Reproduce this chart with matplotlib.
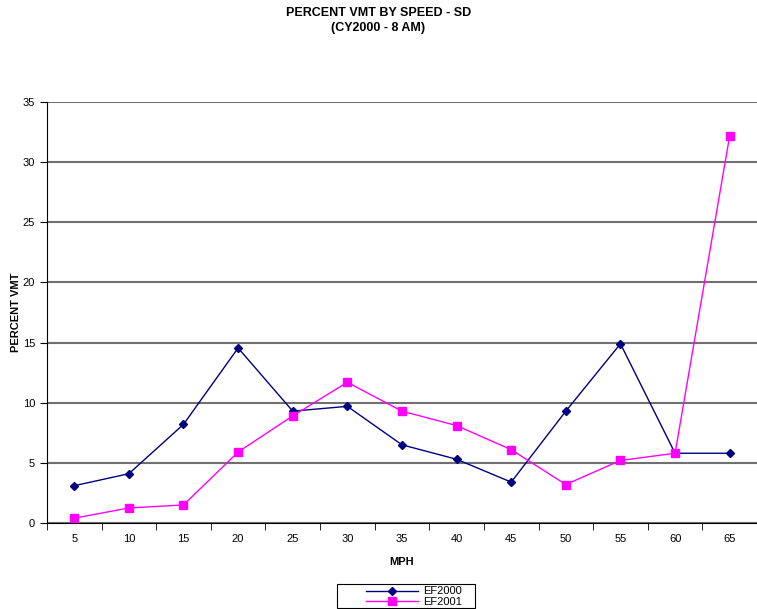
import numpy as np
import matplotlib.pyplot as plt
from matplotlib.patches import Rectangle

plt.rcParams['font.family'] = ['Liberation Sans', 'DejaVu Sans']

# speed bins and percent VMT per series
speeds = ['5', '10', '15', '20', '25', '30', '35', '40', '45', '50', '55', '60', '65']
ef2000 = [3.1, 4.1, 8.2, 14.55, 9.3, 9.7, 6.5, 5.3, 3.4, 9.3, 14.9, 5.8, 5.8]
ef2001 = [0.4, 1.25, 1.5, 5.9, 8.9, 11.7, 9.3, 8.1, 6.1, 3.2, 5.2, 5.8, 32.2]

W, H = 757, 609
fig = plt.figure(figsize=(W / 100, H / 100), dpi=100)
ax = fig.add_axes([0.062, 0.1412, 0.938, 0.6913])

x = np.arange(len(speeds))
ax.plot(x, ef2000, color='#000080', marker='D', markersize=4, linewidth=1, label='EF2000')
ax.plot(x, ef2001, color='#FF00FF', marker='s', markersize=6, linewidth=1, label='EF2001')

ax.set_xlim(-0.5, len(speeds) - 0.5)
ax.set_ylim(0, 35)
ax.set_yticks(range(0, 36, 5))
ax.yaxis.grid(True, color='#707070', linewidth=1.5)
ax.set_axisbelow(True)

# category labels at centres, ticks on the boundaries
ax.set_xticks(x)
ax.set_xticklabels(speeds)
ax.set_xticks(np.arange(-0.5, len(speeds)), minor=True)
ax.tick_params(axis='x', which='major', length=0, labelsize=8, pad=8)
ax.tick_params(axis='x', which='minor', length=5, direction='out')
ax.tick_params(axis='y', length=5, labelsize=8)

for s in ['top', 'right']:
    ax.spines[s].set_visible(False)

ax.set_xlabel('MPH', fontsize=8, fontweight='bold', labelpad=9)
ax.set_ylabel('PERCENT VMT', fontsize=8, fontweight='bold')
ax.yaxis.set_label_coords(-0.037, 0.5)
fig.suptitle('PERCENT VMT BY SPEED - SD\n(CY2000 - 8 AM)', fontsize=9, fontweight='bold',
             y=0.988, linespacing=1.3)

# legend without its own frame, box drawn separately (wider than the entries)
leg = fig.legend(loc='upper left', bbox_to_anchor=(366 / W, 1 - 586.5 / H), fontsize=8,
                 frameon=False, handlelength=4.7, handletextpad=0.45,
                 borderpad=0, borderaxespad=0, labelspacing=0.05, markerscale=0.9)
fig.patches.append(Rectangle((337 / W, 1 - 608 / H), 138 / W, 24 / H,
                             transform=fig.transFigure, fill=False,
                             edgecolor='black', linewidth=0.8))

plt.savefig('out.png', dpi=100)
